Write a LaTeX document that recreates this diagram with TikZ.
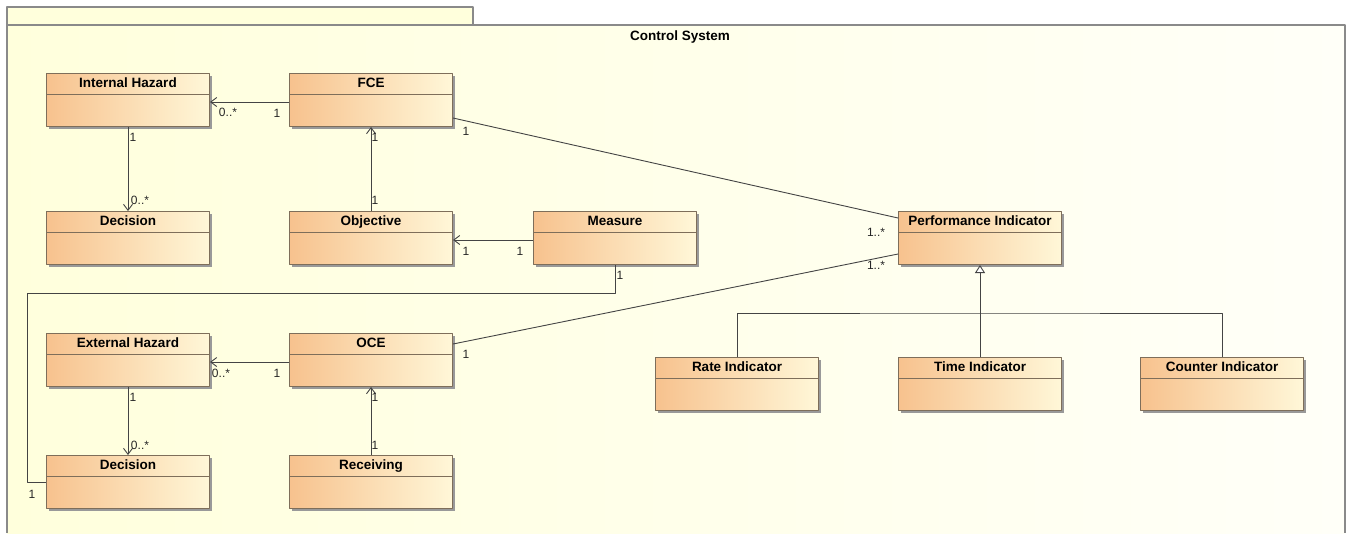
\documentclass[tikz,border=0pt]{standalone}
\usepackage{fontspec}
\setmainfont{Liberation Sans}
\usetikzlibrary{arrows.meta,shadows}
\definecolor{pkgfill}{HTML}{FFFFDC}
\definecolor{pkgend}{HTML}{FFFFF8}
\definecolor{pkgline}{HTML}{8A8A8A}
\definecolor{clsleft}{HTML}{F7C28E}
\definecolor{clsright}{HTML}{FFF7D8}
\definecolor{clsline}{HTML}{7E6E5A}
\definecolor{wire}{HTML}{444444}
\begin{document}
\begin{tikzpicture}[x=1pt,y=-1pt,line join=round,
  cls/.style={draw=clsline,line width=1pt,left color=clsleft,right color=clsright,
    minimum width=163pt,minimum height=53pt,inner sep=0pt,
    drop shadow={shadow xshift=2pt,shadow yshift=-2pt,fill=black!40,opacity=1}},
  ttl/.style={font=\fontsize{13.5}{15}\selectfont\bfseries,inner sep=0pt},
  mult/.style={font=\fontsize{12}{14}\selectfont,inner sep=0pt,text=black!85},
  assoc/.style={draw=wire,line width=0.9pt},
  nav/.style={assoc,-{Straight Barb[length=6pt,width=9pt]}},
  gen/.style={assoc,-{Triangle[open,length=8pt,width=10pt,fill=white]}}]
\useasboundingbox (0,0) rectangle (1346,533);
% package frame
\fill[pkgfill] (7,7) rectangle (473,25);
\draw[pkgline,line width=1.1pt] (7,25) -- (7,7) -- (473,7) -- (473,25);
\shade[left color=pkgfill,right color=pkgend] (7,25) rectangle (1345,533);
\draw[pkgline,line width=1.1pt] (7,533) -- (7,25) -- (1345,25) -- (1345,533);
\node[ttl,anchor=base] (pkg) at (680,40) {Control System};
% classes
\foreach \nm/\cx/\cy/\txt in {ih/128/100/Internal Hazard,fce/371/100/FCE,
  dia/128/238/Decision,obj/371/238/Objective,meas/615/238/Measure,
  pi/980/238/Performance Indicator,eh/128/360/External Hazard,oce/371/360/OCE,
  dib/128/482/Decision,rec/371/482/Receiving,rate/737/384/Rate Indicator,
  time/980/384/Time Indicator,cnt/1222/384/Counter Indicator}{
  \node[cls] (\nm) at (\cx,\cy) {};
  \draw[clsline,line width=1pt] ([yshift=-21pt]\nm.north west) -- ([yshift=-21pt]\nm.north east);
  \node[ttl,anchor=base] (\nm-t) at ([yshift=-14.5pt]\nm.north) {\txt};
}
% associations
\draw[nav] ([yshift=-2pt]fce.west) -- ([yshift=-2pt]ih.east);
\draw[nav] (ih.south) -- (dia.north);
\draw[nav] (obj.north) -- (fce.south);
\draw[nav] ([yshift=-2pt]meas.west) -- ([yshift=-2pt]obj.east);
\draw[assoc] ([yshift=9pt]fce.south east) -- ([yshift=-7pt]pi.north west);
\draw[assoc] ([yshift=-11pt]oce.north east) -- ([yshift=11pt]pi.south west);
\draw[nav] ([yshift=-2pt]oce.west) -- ([yshift=-2pt]eh.east);
\draw[nav] (eh.south) -- (dib.north);
\draw[nav] (rec.north) -- (oce.south);
\draw[assoc] (meas.south) -- ++(0,28) -| ([xshift=-19pt]dib.west) -- (dib.west);
% generalization
\coordinate (gj) at (980,313);
\draw[assoc] (rate.north) |- (gj) -| (cnt.north);
\draw[gen] (time.north) -- (pi.south);
% multiplicities
\foreach \i/\x/\y/\m in {1/228/112/0..*,2/277/113/1,3/133/137/1,4/140/200/0..*,
  5/375/137/1,6/375/200/1,7/466/251/1,8/520/251/1,9/466/131/1,10/876/232/1..*,
  11/466/354/1,12/876/265/1..*,13/221/373/0..*,14/277/373/1,15/133/397/1,
  16/140/445/0..*,17/375/397/1,18/375/445/1,19/620/275/1,20/32/494/1}
  \node[mult] (m\i) at (\x,\y) {\m};
\end{tikzpicture}
\end{document}
